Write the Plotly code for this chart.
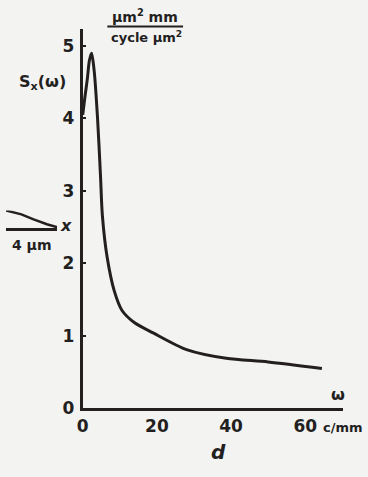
import plotly.graph_objects as go

# Main spectrum S_x(omega)
omega = [0, 0.6, 1.25, 1.8, 2.4, 3.1, 4.0, 4.8, 5.3, 6.6, 8.5, 10.6, 14, 19, 28, 38.7, 50, 64.5]
s_x = [4.05, 4.3, 4.55, 4.8, 4.9, 4.65, 4.0, 3.2, 2.66, 2.08, 1.62, 1.35, 1.18, 1.04, 0.81, 0.69, 0.64, 0.55]

x_ticks = [0, 20, 40, 60]
x_ticklabels = ["0", "20", "40", "60"]
y_ticks = [0, 1, 2, 3, 4, 5]
y_ticklabels = ["0", "1", "2", "3", "4", "5"]

# fragment of the neighbouring panel (left edge)
frag_x = [0, 0.3, 0.54, 0.8, 1.0]
frag_y = [1.0, 0.78, 0.5, 0.22, 0.05]

W, H = 368, 477
ink = "#231f1f"
font = "DejaVu Sans"

fig = go.Figure()
fig.add_trace(go.Scatter(x=omega, y=s_x, mode="lines",
                         line=dict(color=ink, width=3, shape="spline", smoothing=0.8),
                         hoverinfo="skip", showlegend=False))
fig.add_trace(go.Scatter(x=frag_x, y=frag_y, mode="lines", xaxis="x2", yaxis="y2",
                         line=dict(color=ink, width=2.5),
                         hoverinfo="skip", showlegend=False))

fig.update_layout(
    width=W, height=H,
    margin=dict(l=0, r=0, t=0, b=0),
    paper_bgcolor="#f3f3f1", plot_bgcolor="#f3f3f1",
    font=dict(family=font, size=16, color=ink),
    xaxis=dict(domain=[78 / W, 343 / W], range=[0, 70.3], showgrid=False, zeroline=False,
               showline=True, linecolor=ink, linewidth=3,
               tickvals=x_ticks, ticktext=x_ticklabels, ticks="",
               tickfont=dict(family=font, size=17, color=ink, weight="bold"),
               anchor="y", fixedrange=True),
    yaxis=dict(domain=[1 - 417 / H, 1 - 30 / H], range=[0, 5.23], showgrid=False, zeroline=False,
               showline=True, linecolor=ink, linewidth=3,
               tickvals=y_ticks, ticktext=y_ticklabels, ticks="inside", ticklen=3,
               tickcolor=ink, tickwidth=2, ticklabelstandoff=2,
               tickfont=dict(family=font, size=17, color=ink, weight="bold"),
               anchor="x", fixedrange=True),
    xaxis2=dict(domain=[0, 52 / W], range=[0, 1], showgrid=False, zeroline=False,
                showline=True, linecolor=ink, linewidth=2.5, showticklabels=False, ticks="",
                anchor="y2", fixedrange=True),
    yaxis2=dict(domain=[1 - 233 / H, 1 - 215 / H], range=[0, 1], showgrid=False, zeroline=False,
                showline=False, showticklabels=False, ticks="", anchor="x2", fixedrange=True),
)

def ann(text, x, y, size=16, xanchor="center"):
    fig.add_annotation(text=text, x=x / W, y=1 - y / H, xref="paper", yref="paper",
                       xanchor=xanchor, yanchor="middle", showarrow=False,
                       font=dict(family=font, size=size, color=ink, weight="bold"))

ann("S<sub>x</sub>(ω)", 37, 84, size=16)
ann("μm<sup>2</sup> mm", 141, 16, size=14)
ann("cycle μm<sup>2</sup>", 143, 38, size=13)
fig.add_shape(type="line", xref="paper", yref="paper", x0=103 / W, x1=180 / W,
              y0=1 - 27 / H, y1=1 - 27 / H, line=dict(color=ink, width=2))
ann("ω", 338, 403, size=16)
ann("c/mm", 320, 437, size=13, xanchor="left")
ann("<i>d</i>", 216, 462, size=20)
ann("<i>x</i>", 61, 230, size=16)
ann("4 μm", 26, 250, size=14)

fig.write_html("out.html")
